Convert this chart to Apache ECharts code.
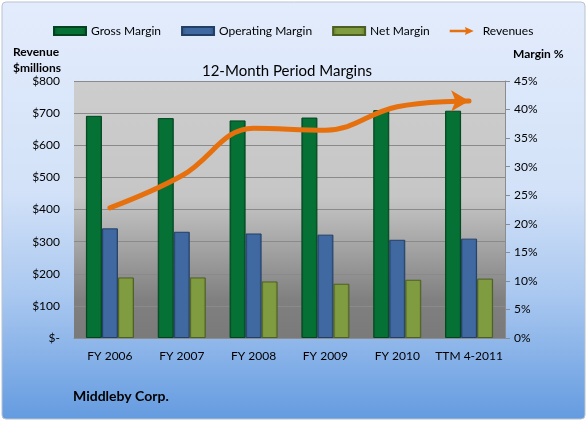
<!DOCTYPE html>
<html><head><meta charset="utf-8">
<script src="https://cdn.jsdelivr.net/npm/echarts@6/dist/echarts.min.js"></script>
<style>html,body{margin:0;padding:0;background:#fff;}#c{width:588px;height:422px;}</style>
</head><body><div id="c"></div>
<script>
const categories = ['FY 2006','FY 2007','FY 2008','FY 2009','FY 2010','TTM 4-2011'];
const grossMargin = [38.9, 38.5, 38.1, 38.6, 39.9, 39.8];
const operatingMargin = [19.2, 18.6, 18.3, 18.1, 17.2, 17.4];
const netMargin = [10.6, 10.6, 9.9, 9.5, 10.2, 10.4];
const revenues = [405, 505, 653, 647, 720, 738];

const FONT = 'Lato';
function barGrad(edge, main){
  return new echarts.graphic.LinearGradient(0,0,1,0,[
    {offset:0,color:edge},{offset:0.15,color:main},{offset:0.85,color:main},{offset:1,color:edge}]);
}
const chart = echarts.init(document.getElementById('c'), null, {renderer:'canvas'});
const revData = revenues.map((v,i)=> i===revenues.length-1
  ? {value:v, symbol:'arrow', symbolSize:[16,18], symbolRotate:-90}
  : v);
chart.setOption({
  animation:false,
  backgroundColor:'#ffffff',
  textStyle:{fontFamily:FONT},
  graphic:[
    {type:'rect', z:-10, shape:{x:2,y:2,width:583,height:417,r:4},
     style:{fill:new echarts.graphic.LinearGradient(0,0,0,1,[
       {offset:0,color:'#e3ecfc'},{offset:0.45,color:'#d3e2f8'},{offset:0.7,color:'#aac8f0'},{offset:1,color:'#649be0'}]),
       stroke:'#b9c3cf', lineWidth:1}},
    {type:'text', left:13, top:44, style:{text:'Revenue\n$millions', font:'bold 12px Lato', fill:'#000', lineHeight:16}},
    {type:'text', left:513, top:48, style:{text:'Margin %', font:'bold 12px Lato', fill:'#000'}},
    {type:'text', left:73, top:389, style:{text:'Middleby Corp.', font:'bold 14px Lato', fill:'#000'}}
  ],
  title:{text:'12-Month Period Margins', left:282, textAlign:'center', top:59,
    textStyle:{fontFamily:FONT, fontSize:15, fontWeight:'normal', color:'#000'}},
  legend:{left:48, top:20, itemWidth:32, itemHeight:8, itemGap:20,
    textStyle:{fontFamily:FONT, fontSize:12, color:'#000'},
    data:[{name:'Gross Margin', icon:'rect'},{name:'Operating Margin', icon:'rect'},{name:'Net Margin', icon:'rect'},
      {name:'Revenues', icon:'path://M0,3.5 L20,3.5 L19,0 L30,5 L19,10 L20,6.5 L0,6.5 Z'}]},
  grid:{left:74, right:83, top:81, bottom:84, show:true, borderWidth:0,
    backgroundColor:new echarts.graphic.LinearGradient(0,0,0,1,[
      {offset:0,color:'#cdcdcd'},{offset:0.45,color:'#c6c6c6'},{offset:0.85,color:'#808080'},{offset:1,color:'#7a7a7a'}])},
  xAxis:{type:'category', data:categories,
    axisLine:{lineStyle:{color:'#8c8c8c'}}, axisTick:{show:false},
    axisLabel:{fontFamily:FONT, fontSize:12, color:'#000', margin:12, interval:0}},
  yAxis:[
    {type:'value', min:0, max:800, interval:100, position:'left',
     axisLine:{show:false}, axisTick:{show:false},
     splitLine:{lineStyle:{color:'#8a8a8a', width:1}},
     axisLabel:{fontFamily:FONT, fontSize:12, color:'#000', margin:14,
       formatter:v=> v===0 ? '$-' : '$'+v}},
    {type:'value', min:0, max:45, interval:5, position:'right',
     axisLine:{show:true, lineStyle:{color:'#8c8c8c'}}, axisTick:{show:true, length:5, lineStyle:{color:'#8c8c8c'}},
     splitLine:{show:false},
     axisLabel:{fontFamily:FONT, fontSize:12, color:'#000', margin:9, formatter:v=> v+'%'}}
  ],
  series:[
    {name:'Gross Margin', type:'bar', yAxisIndex:1, data:grossMargin, barWidth:16, barGap:'0%',
     itemStyle:{color:barGrad('#03582a','#067134'), borderColor:'#02441f', borderWidth:1}},
    {name:'Operating Margin', type:'bar', yAxisIndex:1, data:operatingMargin, barWidth:16, barGap:'0%',
     itemStyle:{color:barGrad('#2d5283','#3f69a0'), borderColor:'#243f66', borderWidth:1}},
    {name:'Net Margin', type:'bar', yAxisIndex:1, data:netMargin, barWidth:16, barGap:'0%',
     itemStyle:{color:barGrad('#647c2e','#809c40'), borderColor:'#4d5f23', borderWidth:1}},
    {name:'Revenues', type:'line', yAxisIndex:0, data:revData, smooth:0.4, symbol:'none',
     lineStyle:{color:'#e6700d', width:5, cap:'round'}, itemStyle:{color:'#e6700d'}, z:5}
  ]
});
</script></body></html>
